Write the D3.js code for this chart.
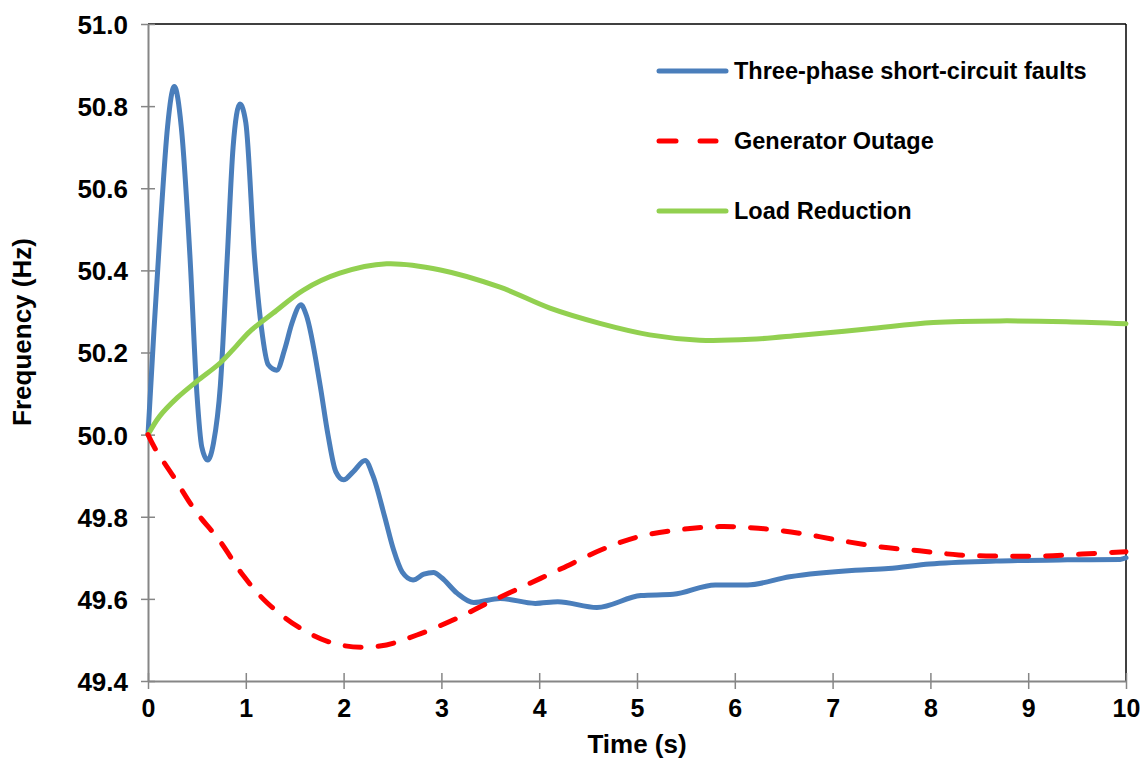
<!DOCTYPE html>
<html>
<head>
<meta charset="utf-8">
<script src="https://cdn.jsdelivr.net/npm/d3@7"></script>
<style>
  html, body { margin: 0; padding: 0; background: #ffffff; }
  svg { display: block; }
  text { font-family: "Liberation Sans", Arial, sans-serif; font-weight: bold; fill: #000; }
</style>
</head>
<body>
<svg id="chart" width="1146" height="758"></svg>
<script>
// ---- data ----
const seriesNames = ["Three-phase short-circuit faults", "Generator Outage", "Load Reduction"];

const faultTime = [0, 0.06, 0.13, 0.2, 0.269, 0.34, 0.43, 0.50, 0.55, 0.61, 0.67, 0.74, 0.81, 0.87, 0.94, 1.0, 1.09, 1.16, 1.23, 1.316, 1.40, 1.47, 1.564, 1.62, 1.76, 1.84, 1.92, 2.0, 2.1, 2.22, 2.3, 2.42, 2.51, 2.6, 2.71, 2.82, 2.92, 3.0, 3.16, 3.33, 3.6, 3.96, 4.19, 4.59, 5.04, 5.37, 5.80, 6.13, 6.56, 7.23, 7.57, 7.99, 8.67, 9.4, 9.94, 10];
const faultFreq = [50.0, 50.25, 50.52, 50.75, 50.848, 50.75, 50.43, 50.10, 49.97, 49.938, 49.98, 50.12, 50.43, 50.70, 50.805, 50.76, 50.43, 50.26, 50.17, 50.157, 50.21, 50.27, 50.316, 50.29, 50.12, 50.00, 49.91, 49.89, 49.91, 49.937, 49.90, 49.80, 49.72, 49.665, 49.646, 49.66, 49.664, 49.652, 49.614, 49.591, 49.601, 49.589, 49.593, 49.579, 49.608, 49.611, 49.634, 49.634, 49.654, 49.670, 49.674, 49.685, 49.692, 49.695, 49.696, 49.70];

const outageTime = [0, 0.08, 0.26, 0.48, 0.74, 0.97, 1.22, 1.59, 1.96, 2.37, 2.75, 3.16, 3.50, 3.87, 4.23, 4.63, 5.01, 5.42, 5.84, 6.24, 6.66, 7.06, 7.47, 7.89, 8.29, 8.71, 9.13, 9.55, 10];
const outageFreq = [50.0, 49.963, 49.898, 49.816, 49.739, 49.658, 49.59, 49.524, 49.488, 49.485, 49.512, 49.553, 49.593, 49.634, 49.674, 49.719, 49.751, 49.768, 49.776, 49.772, 49.76, 49.743, 49.727, 49.717, 49.707, 49.704, 49.704, 49.709, 49.715];

const loadTime = [0, 0.12, 0.3, 0.5, 0.74, 0.9, 1.04, 1.28, 1.59, 1.96, 2.44, 2.99, 3.60, 4.11, 4.62, 5.13, 5.64, 6.16, 6.67, 7.35, 8.03, 8.71, 9.39, 10];
const loadFreq = [50.0, 50.045, 50.09, 50.13, 50.175, 50.215, 50.251, 50.296, 50.352, 50.393, 50.416, 50.401, 50.359, 50.308, 50.271, 50.243, 50.230, 50.232, 50.242, 50.257, 50.273, 50.277, 50.275, 50.270];

const xTicks = [0, 1, 2, 3, 4, 5, 6, 7, 8, 9, 10];
const yTicks = [49.4, 49.6, 49.8, 50.0, 50.2, 50.4, 50.6, 50.8, 51.0];
const xTitle = "Time (s)";
const yTitle = "Frequency (Hz)";

// ---- layout ----
const svg = d3.select("#chart");
const plotL = 148, plotR = 1126, plotT = 24, plotB = 681;

const x = d3.scaleLinear().domain([0, 10]).range([plotL, plotR]);
const y = d3.scaleLinear().domain([49.4, 51.0]).range([plotB, plotT]);

const axisGrey = "#868686";

// top and right frame
svg.append("line").attr("x1", plotL).attr("x2", plotR).attr("y1", plotT).attr("y2", plotT)
  .attr("stroke", "#000").attr("stroke-width", 1.5);
svg.append("line").attr("x1", plotR).attr("x2", plotR).attr("y1", plotT).attr("y2", plotB)
  .attr("stroke", "#000").attr("stroke-width", 1.5);

// y axis
const yAxis = d3.axisLeft(y).tickValues(yTicks).tickFormat(d3.format(".1f"))
  .tickSizeInner(7).tickSizeOuter(0).tickPadding(13);
const gy = svg.append("g").attr("transform", `translate(${plotL},0)`).call(yAxis);
gy.select(".domain").attr("stroke", axisGrey).attr("stroke-width", 2);
gy.selectAll(".tick line").attr("stroke", axisGrey).attr("stroke-width", 1.5).attr("x2", -7).attr("x1", 7);
gy.selectAll(".tick text").attr("font-size", 26).attr("font-family", "Liberation Sans, Arial, sans-serif")
  .attr("font-weight", "bold").attr("fill", "#000").attr("x", -20).attr("dy", "0.36em");

// x axis
const xAxis = d3.axisBottom(x).tickValues(xTicks).tickFormat(d3.format("d"))
  .tickSizeInner(8).tickSizeOuter(0).tickPadding(16);
const gx = svg.append("g").attr("transform", `translate(0,${plotB})`).call(xAxis);
gx.select(".domain").attr("stroke", axisGrey).attr("stroke-width", 2);
gx.selectAll(".tick line").attr("stroke", axisGrey).attr("stroke-width", 1.5).attr("y1", -8).attr("y2", 8);
gx.selectAll(".tick text").attr("font-size", 25).attr("font-family", "Liberation Sans, Arial, sans-serif")
  .attr("font-weight", "bold").attr("fill", "#000").attr("y", 18).attr("dy", "0.71em");

// axis titles
svg.append("text").attr("x", 637).attr("y", 753).attr("text-anchor", "middle")
  .attr("font-size", 26).text(xTitle);
svg.append("text").attr("transform", `translate(31,332) rotate(-90)`)
  .attr("text-anchor", "middle").attr("font-size", 26).text(yTitle);

// lines
const lineSharp = d3.line().x(d => x(d[0])).y(d => y(d[1])).curve(d3.curveMonotoneX);
const lineSmooth = d3.line().x(d => x(d[0])).y(d => y(d[1])).curve(d3.curveCatmullRom.alpha(0.5));
const zip = (a, b) => a.map((v, i) => [v, b[i]]);

const series = [
  { name: seriesNames[0], data: zip(faultTime, faultFreq), color: "#4a7ebb", dash: null, gen: lineSharp },
  { name: seriesNames[1], data: zip(outageTime, outageFreq), color: "#ff0000", dash: "16,17", gen: lineSmooth },
  { name: seriesNames[2], data: zip(loadTime, loadFreq), color: "#92d050", dash: null, gen: lineSmooth }
];

const drawOrder = [0, 2, 1];
drawOrder.forEach(i => {
  const s = series[i];
  svg.append("path").datum(s.data).attr("d", s.gen)
    .attr("fill", "none").attr("stroke", s.color).attr("stroke-width", 5)
    .attr("stroke-linecap", "round").attr("stroke-linejoin", "round")
    .attr("stroke-dasharray", s.dash);
});

// legend
const legendY = [71, 141, 211];
series.forEach((s, i) => {
  const g = svg.append("g").attr("transform", `translate(0,${legendY[i]})`);
  if (s.dash) {
    g.append("line").attr("x1", 659).attr("x2", 676).attr("y1", 0).attr("y2", 0)
      .attr("stroke", s.color).attr("stroke-width", 5).attr("stroke-linecap", "round");
    g.append("line").attr("x1", 700).attr("x2", 716).attr("y1", 0).attr("y2", 0)
      .attr("stroke", s.color).attr("stroke-width", 5).attr("stroke-linecap", "round");
  } else {
    g.append("line").attr("x1", 659).attr("x2", 726).attr("y1", 0).attr("y2", 0)
      .attr("stroke", s.color).attr("stroke-width", 5).attr("stroke-linecap", "round");
  }
  g.append("text").attr("x", 734).attr("y", 8).attr("font-size", 23.5).text(s.name);
});
</script>
</body>
</html>
